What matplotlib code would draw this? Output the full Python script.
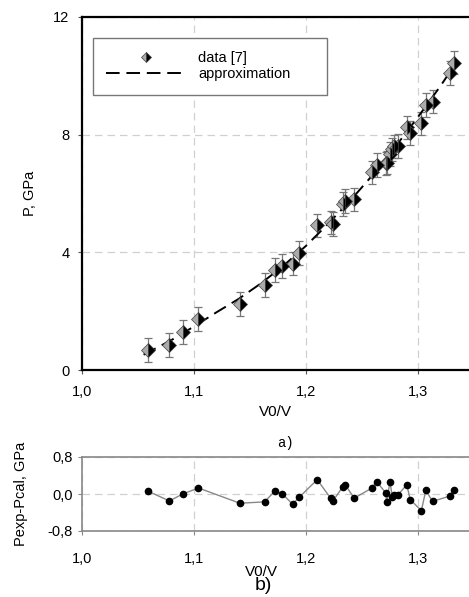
import numpy as np
import matplotlib.pyplot as plt
from matplotlib.ticker import FuncFormatter

plt.rcParams['font.family'] = ['Liberation Sans', 'DejaVu Sans']

# data
v_ratio = [1.059, 1.078, 1.090, 1.104, 1.141, 1.163, 1.172, 1.179, 1.188, 1.194,
           1.210, 1.222, 1.224, 1.233, 1.235, 1.243, 1.259, 1.263, 1.271, 1.272,
           1.275, 1.277, 1.279, 1.282, 1.290, 1.293, 1.303, 1.307, 1.313, 1.329, 1.332]
p_exp = [0.68, 0.85, 1.29, 1.73, 2.24, 2.89, 3.40, 3.54, 3.62, 3.97,
         4.92, 5.02, 4.97, 5.65, 5.75, 5.80, 6.72, 6.97, 7.02, 7.05,
         7.35, 7.50, 7.60, 7.62, 8.25, 8.05, 8.38, 9.00, 9.12, 10.10, 10.45]
p_err = 0.4
resid = [0.06, -0.15, 0.00, 0.13, -0.20, -0.17, 0.06, 0.00, -0.22, -0.07,
         0.31, -0.09, -0.15, 0.16, 0.20, -0.09, 0.13, 0.27, 0.03, -0.17,
         0.27, -0.06, -0.02, -0.02, 0.20, -0.12, -0.36, 0.08, -0.16, -0.04, 0.09]

x_fit = [1.055, 1.08, 1.10, 1.12, 1.14, 1.16, 1.18, 1.20, 1.22, 1.24, 1.26, 1.28, 1.30, 1.32, 1.335]
p_fit = [0.52, 1.02, 1.48, 1.96, 2.42, 2.95, 3.55, 4.22, 4.98, 5.78, 6.65, 7.60, 8.60, 9.65, 10.50]

W, H = 469, 597
fig = plt.figure(figsize=(W/100, H/100), dpi=100)

comma = FuncFormatter(lambda v, p: ('%.1f' % v).replace('.', ','))

# top panel (a) - right side is cut off in the original
ax = fig.add_axes([82/W, (H-370)/H, 448/W, 353/H])
ax.set_xlim(1.0, 1.4)
ax.set_ylim(0, 12)
ax.set_xticks([1.0, 1.1, 1.2, 1.3])
ax.set_yticks([0, 4, 8, 12])
ax.xaxis.set_major_formatter(comma)
ax.grid(True, color='#d0d0d0', linestyle=(0, (6, 4)), linewidth=0.9)
for s in ax.spines.values():
    s.set_linewidth(1.6)
ax.tick_params(labelsize=10.5, length=3, color='#555555')
ax.tick_params(axis='x', pad=8)
ax.tick_params(axis='y', pad=6)

ax.errorbar(v_ratio, p_exp, yerr=p_err, fmt='none', ecolor='#777777',
            elinewidth=0.9, capsize=3, capthick=0.9, zorder=2)
ax.plot(x_fit, p_fit, color='black', linestyle=(0, (7, 3.5)), linewidth=1.4,
        label='approximation', zorder=3)
ax.plot(v_ratio, p_exp, linestyle='none', marker='D', markersize=7,
        fillstyle='left', markerfacecolor='#aaaaaa', markerfacecoloralt='black',
        markeredgecolor='#444444', markeredgewidth=0.5, label='data [7]', zorder=4)
ax.set_ylabel('P, GPa', fontsize=10.5, labelpad=12)

h, l = ax.get_legend_handles_labels()
leg = ax.legend(h[::-1], l[::-1], loc='upper left', bbox_to_anchor=(0.025, 0.77, 0.522, 0.17),
                mode='expand', fontsize=10.5, handlelength=5.5, labelspacing=0.15,
                fancybox=False, edgecolor='#777777', framealpha=1, markerscale=0.75,
                borderpad=0.9, borderaxespad=0)
leg.get_frame().set_linewidth(1.0)

fig.text(275/W, 1-412/H, 'V0/V', ha='center', va='center', fontsize=11)
fig.text(285/W, 1-443/H, 'a)', ha='center', va='center', fontsize=10,
         family=['Liberation Mono', 'DejaVu Sans Mono'])

# bottom panel (b)
bx = fig.add_axes([82/W, (H-531)/H, 448/W, 74/H])
bx.set_xlim(1.0, 1.4)
bx.set_ylim(-0.8, 0.8)
bx.set_xticks([1.0, 1.1, 1.2, 1.3])
bx.set_yticks([-0.8, 0.0, 0.8])
bx.xaxis.set_major_formatter(comma)
bx.yaxis.set_major_formatter(comma)
bx.grid(True, color='#d0d0d0', linestyle=(0, (6, 4)), linewidth=0.9)
for s in bx.spines.values():
    s.set_color('#888888')
    s.set_linewidth(1.2)
bx.tick_params(labelsize=10.5, length=3, color='#888888')
bx.tick_params(axis='x', pad=12)
bx.plot(v_ratio, resid, color='#888888', linewidth=1.0, marker='o', markersize=4.5,
        markerfacecolor='black', markeredgecolor='black')
bx.set_ylabel('Pexp-Pcal, GPa', fontsize=10.5, labelpad=14)

fig.text(261/W, 1-572/H, 'V0/V', ha='center', va='center', fontsize=11)
fig.text(263/W, 1-586/H, 'b)', ha='center', va='center', fontsize=14)

fig.savefig('out.png', dpi=100)
